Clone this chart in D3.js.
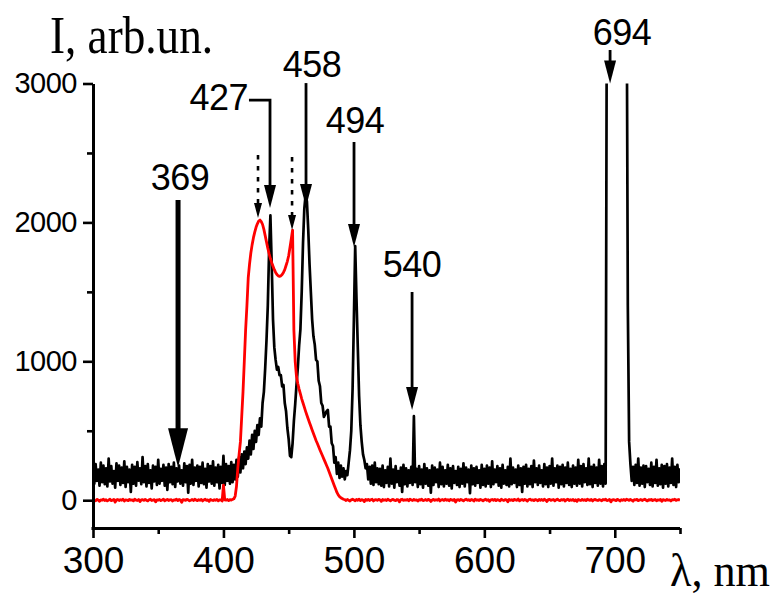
<!DOCTYPE html>
<html>
<head>
<meta charset="utf-8">
<script src="https://cdn.jsdelivr.net/npm/d3@7"></script>
<style>
  html, body { margin: 0; padding: 0; background: #fff; }
  svg { display: block; }
</style>
</head>
<body>
<svg id="chart" width="779" height="596"></svg>
<script>
// Both spectra are sampled once per nanometre from 300 to 750 nm
const lambdaStart = 300;
const lambdaStep = 1;

// Luminescence spectrum (black trace), arb. units
const emission = [
  240,120,260,140,220,105,270,130,250,115,
  230,100,300,135,245,120,210,90,265,140,
  250,110,235,125,280,95,240,130,220,60,
  255,120,240,105,275,140,230,115,310,130,
  245,100,260,125,215,85,250,135,240,110,
  290,120,225,140,255,105,235,75,260,130,
  240,115,270,95,230,135,250,120,215,105,
  265,130,245,55,255,120,290,110,235,140,
  250,100,240,125,270,115,225,90,260,135,
  245,120,280,105,235,130,255,85,240,125,
  320,110,260,140,245,120,275,130,255,150,
  290,170,310,200,330,230,350,260,380,300,
  430,330,470,370,500,420,540,470,590,530,
  700,780,950,1150,1400,1800,2050,1700,1300,1100,
  1010,940,960,900,900,820,830,700,640,520,
  440,320,310,410,570,690,830,950,1110,1230,
  1500,1850,2100,2200,2150,1950,1700,1500,1300,1180,
  1120,1010,1000,860,820,700,680,600,620,640,
  650,530,530,410,390,270,310,190,270,160,
  250,170,230,150,210,180,270,360,500,800,
  1300,1830,1450,1100,750,540,420,330,290,230,
  260,150,240,120,250,110,270,130,230,115,
  225,105,250,95,215,125,240,100,300,120,
  220,90,245,130,210,105,235,60,255,115,
  230,100,215,125,240,110,605,130,225,95,
  245,115,220,90,260,120,230,105,215,55,
  250,110,235,130,220,95,270,115,240,100,
  215,120,255,105,230,85,245,125,210,110,
  240,95,225,120,265,100,235,130,220,50,
  250,115,230,105,240,125,215,90,255,110,
  225,100,250,120,235,95,280,115,220,130,
  245,105,230,90,255,120,215,110,240,100,
  300,115,235,125,220,95,250,110,230,60,
  240,120,255,100,225,115,245,95,285,130,
  230,110,250,125,215,100,260,115,235,95,
  245,120,300,105,230,130,250,90,240,115,
  255,100,235,125,270,110,225,95,250,120,
  235,105,290,120,245,100,260,130,230,110,
  300,115,240,95,255,125,235,105,290,120,
  245,100,260,120,4000,4000,4000,4000,4000,4000,
  4000,4000,4000,4000,4000,4000,4000,4000,4000,4000,
  1400,420,260,140,240,110,255,125,300,105,
  235,120,250,95,245,130,225,110,270,100,
  240,125,290,105,230,115,255,90,245,120,
  260,100,235,125,300,110,240,95,255,130,
  230
];

// Excitation band (red trace), arb. units
const excitation = [
  5,0,-4,6,2,-8,3,0,7,-2,
  4,-5,1,8,-3,0,6,-14,2,5,
  -2,4,0,7,-6,3,1,-3,6,0,
  3,-4,8,1,-2,5,-10,2,4,-1,
  6,0,-5,3,7,-2,1,4,-12,3,
  0,5,-3,2,8,-4,1,6,-2,3,
  4,-6,2,0,7,-3,5,1,-15,4,
  2,-1,6,3,-4,0,5,-2,8,1,
  -3,4,0,6,-5,2,7,-1,3,-8,
  5,1,-2,4,0,6,-4,3,2,-6,
  108,3,0,5,-3,4,1,6,10,30,
  100,230,330,420,600,780,1000,1225,1400,1600,
  1700,1780,1840,1890,1930,1965,1990,2010,2017,2005,
  1985,1950,1905,1860,1815,1775,1740,1710,1685,1660,
  1640,1625,1615,1612,1615,1625,1640,1660,1690,1720,
  1760,1820,1880,1945,1225,1000,890,840,800,765,
  730,700,670,640,612,585,558,532,506,480,
  455,430,408,385,362,340,318,296,274,252,
  230,205,180,155,130,105,80,56,38,26,
  18,12,7,4,-2,5,0,-6,3,7,
  2,-4,6,0,8,-3,4,1,-10,5,
  0,6,-2,3,7,-5,2,4,-1,6,
  3,-8,5,0,4,-2,7,1,-4,3,
  6,0,-3,5,2,-12,4,7,-1,3,
  0,5,-4,8,2,-2,6,0,3,-6,
  4,1,7,-3,0,5,-2,6,3,-9,
  2,6,-1,4,0,8,-5,3,5,-2,
  7,0,4,-4,6,2,-1,5,-13,3,
  4,-2,6,1,-5,3,7,0,4,-3,
  5,2,-6,8,0,3,-2,6,1,-4,
  3,7,-1,4,-8,2,5,0,6,-3,
  4,1,-5,7,2,-2,5,3,-11,6,
  0,4,-3,6,2,-1,8,-4,3,5,
  -2,6,1,-6,4,7,0,3,-3,5,
  2,-4,6,0,5,-2,7,1,-9,4,
  6,-1,3,5,-5,2,8,0,-3,4,
  1,5,-6,3,7,-2,4,0,6,-4,
  3,-8,5,1,-2,6,0,4,-3,7,
  2,-1,5,-5,3,6,0,-2,4,1,
  -4,5,2,7,-3,0,6,-12,3,4,
  1,-3,6,2,-6,4,0,5,-2,7,
  3,-1,5,0,-7,4,2,6,-3,1,
  5,-2,3,7,0,-5,4,1,6,-3,
  2,5,-4,3,0,6,-8,4,1,-2,
  6,0,3,-5,4,2,7,-1,3,5,
  0
];

// Axis ticks
const xTicksMajor = [300, 400, 500, 600, 700];
const xTicksMinor = [350, 450, 550, 650, 750];
const yTicksMajor = [0, 1000, 2000, 3000];
const yTicksMinor = [500, 1500, 2500];

// Peak markers (nm, arb. units): arrow shaft and tip, label anchor
const peakLabels    = ["369", "427", "458", "494", "540", "694"];
const peakArrowNm   = [365.2, 435.7, 463.3, 500.1, 544.6, 696.4];
const peakArrowFrom = [2161, 2881, 3003, 2579, 1499, 3241];
const peakArrowTo   = [238, 2104, 2111, 1823, 650, 3000];
const peakLabelNm   = [366.7, 418.8, 467.9, 500.9, 544.6, 705.5];
const peakLabelAt   = [2233, 2809, 3047, 2641, 1607, 3277];

// Dotted markers on the excitation maxima
const bandArrowNm   = [426.5, 452.6];
const bandArrowFrom = [2485, 2471];
const bandArrowTo   = [2032, 1945];

const svg = d3.select("#chart");
const x = d3.scaleLinear().domain([300, 750]).range([93, 680]);
const y = d3.scaleLinear().domain([-200, 3000]).range([528, 83.5]);

const sansFont = "'Liberation Sans', Arial, sans-serif";
const serifFont = "'Liberation Serif', 'Times New Roman', serif";

// Clip traces to the plotting frame
svg.append("defs").append("clipPath").attr("id", "frame")
  .append("rect")
  .attr("x", x(300)).attr("y", y(3000))
  .attr("width", x(750) - x(300)).attr("height", y(-200) - y(3000));

const toPoints = arr => arr.map((v, i) => [lambdaStart + i * lambdaStep, v]);
const line = d3.line().x(d => x(d[0])).y(d => y(d[1]));

const plot = svg.append("g").attr("clip-path", "url(#frame)");
plot.append("path")
  .attr("d", line(toPoints(emission)))
  .attr("fill", "none").attr("stroke", "#000")
  .attr("stroke-width", 2.7).attr("stroke-linejoin", "round");
plot.append("path")
  .attr("d", line(toPoints(excitation)))
  .attr("fill", "none").attr("stroke", "#ff0000")
  .attr("stroke-width", 2.8).attr("stroke-linejoin", "round");

// Axes
function styleAxis(g, fontSize) {
  g.attr("font-family", sansFont).attr("font-size", fontSize);
  g.select(".domain").attr("stroke", "#000").attr("stroke-width", 3);
  g.selectAll(".tick line").attr("stroke", "#000").attr("stroke-width", 2.6);
  g.selectAll(".tick text").attr("fill", "#000");
}

const gx = svg.append("g").attr("transform", `translate(0,${y(-200)})`)
  .call(d3.axisBottom(x).tickValues(xTicksMajor).tickSize(10).tickSizeOuter(0).tickPadding(9).tickFormat(d3.format("d")));
styleAxis(gx, 37);
gx.select(".domain").attr("d", `M${x(300) - 1.5},0.5H${x(750)}`);

const gxm = svg.append("g").attr("transform", `translate(0,${y(-200)})`)
  .call(d3.axisBottom(x).tickValues(xTicksMinor).tickSize(6).tickFormat(""));
gxm.select(".domain").remove();
styleAxis(gxm, 10);

const gy = svg.append("g").attr("transform", `translate(${x(300)},0)`)
  .call(d3.axisLeft(y).tickValues(yTicksMajor).tickSize(10).tickSizeOuter(0).tickPadding(6).tickFormat(d3.format("d")));
styleAxis(gy, 29);
gy.selectAll(".tick text").attr("letter-spacing", "-0.5");

const gym = svg.append("g").attr("transform", `translate(${x(300)},0)`)
  .call(d3.axisLeft(y).tickValues(yTicksMinor).tickSize(6).tickFormat(""));
gym.select(".domain").remove();
styleAxis(gym, 10);

// Axis titles
svg.append("text")
  .attr("x", 50).attr("y", 53)
  .attr("font-family", serifFont).attr("font-size", 52)
  .attr("textLength", 163).attr("lengthAdjust", "spacingAndGlyphs")
  .text("I, arb.un.");
svg.append("text")
  .attr("x", 670).attr("y", 586)
  .attr("font-family", serifFont).attr("font-size", 46)
  .attr("textLength", 100).attr("lengthAdjust", "spacingAndGlyphs")
  .text("λ, nm");

// Arrow helpers
const ann = svg.append("g");
function head(cx, tipY, w, h) {
  const p = d3.path();
  p.moveTo(cx - w / 2, tipY - h);
  p.lineTo(cx + w / 2, tipY - h);
  p.lineTo(cx, tipY);
  p.closePath();
  ann.append("path").attr("d", p.toString()).attr("fill", "#000");
}

peakLabels.forEach((label, i) => {
  const ax = x(peakArrowNm[i]);
  const y0 = y(peakArrowFrom[i]);
  const tip = y(peakArrowTo[i]);
  const heavy = i === 0;
  const hw = heavy ? 20 : 12;
  const hh = heavy ? 39 : 23;
  const shaft = d3.path();
  if (i === 1) {
    // label sits to the left, joined by an elbow connector
    shaft.moveTo(x(peakLabelNm[i]) + 1, y0);
    shaft.lineTo(ax, y0);
    shaft.lineTo(ax, tip - hh + 1);
  } else {
    shaft.moveTo(ax, y0);
    shaft.lineTo(ax, tip - hh + 1);
  }
  ann.append("path").attr("d", shaft.toString())
    .attr("fill", "none").attr("stroke", "#000")
    .attr("stroke-width", heavy ? 5 : 2.8);
  head(ax, tip, hw, hh);

  ann.append("text")
    .attr("x", x(peakLabelNm[i])).attr("y", y(peakLabelAt[i]))
    .attr("text-anchor", i === 1 ? "end" : "middle")
    .attr("font-family", sansFont).attr("font-size", 36)
    .attr("letter-spacing", "-0.5")
    .text(label);
});

bandArrowNm.forEach((nm, i) => {
  const ax = x(nm);
  const tip = y(bandArrowTo[i]);
  ann.append("line")
    .attr("x1", ax).attr("x2", ax)
    .attr("y1", y(bandArrowFrom[i])).attr("y2", tip - 14)
    .attr("stroke", "#000").attr("stroke-width", 2.6)
    .attr("stroke-dasharray", "4.5,6.5");
  head(ax, tip, 8, 15);
});
</script>
</body>
</html>
